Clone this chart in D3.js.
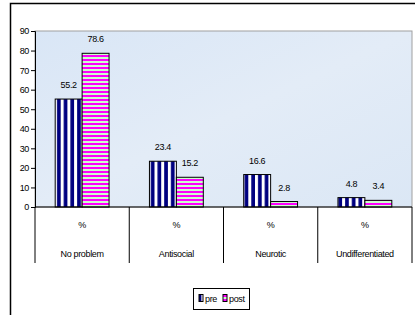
<!DOCTYPE html>
<html>
<head>
<meta charset="utf-8">
<script src="https://cdn.jsdelivr.net/npm/d3@7"></script>
<style>
  body { margin: 0; background: #fff; }
  text { font-family: "Liberation Sans Narrow", "Liberation Sans", Arial, sans-serif; fill: #000; letter-spacing: -0.35px; }
</style>
</head>
<body>
<div id="chart"></div>
<script>
var categories = ["No problem", "Antisocial", "Neurotic", "Undifferentiated"];
var unitLabel = "%";
var seriesNames = ["pre", "post"];
var preValues = [55.2, 23.4, 16.6, 4.8];
var postValues = [78.6, 15.2, 2.8, 3.4];
var yTicks = [0, 10, 20, 30, 40, 50, 60, 70, 80, 90];

var width = 415, height = 315;
var mLeft = 35, mRight = 412, mTop = 31, mBottom = 207;

var svg = d3.select("#chart").append("svg")
  .attr("width", width).attr("height", height);

var defs = svg.append("defs");
// vertical navy stripes for "pre"
var p1 = defs.append("pattern").attr("id", "preFill")
  .attr("patternUnits", "userSpaceOnUse").attr("width", 6.7).attr("height", 10)
  .attr("x", 54);
p1.append("rect").attr("width", 6.7).attr("height", 10).attr("fill", "#fff");
p1.append("rect").attr("x", 3).attr("width", 3.7).attr("height", 10).attr("fill", "#000080");
// horizontal magenta / light green stripes for "post"
var p2 = defs.append("pattern").attr("id", "postFill")
  .attr("patternUnits", "userSpaceOnUse").attr("width", 10).attr("height", 4)
  .attr("y", mBottom);
p2.append("rect").attr("width", 10).attr("height", 4).attr("fill", "#ccffcc");
p2.append("rect").attr("width", 10).attr("height", 2).attr("fill", "#ff00ff");

// outer frame
svg.append("rect").attr("x", 10.5).attr("y", 3.5).attr("width", 420).attr("height", 320)
  .attr("fill", "none").attr("stroke", "#000").attr("stroke-width", 1.5);

// plot area
var bg = defs.append("linearGradient").attr("id", "plotBg")
  .attr("x1", 0).attr("y1", 0).attr("x2", 1).attr("y2", 1);
bg.append("stop").attr("offset", "0").attr("stop-color", "#d9e6f6");
bg.append("stop").attr("offset", "0.5").attr("stop-color", "#e3ecf7");
bg.append("stop").attr("offset", "1").attr("stop-color", "#dbe7f5");
svg.append("rect").attr("x", mLeft).attr("y", mTop)
  .attr("width", mRight - mLeft).attr("height", mBottom - mTop)
  .attr("fill", "url(#plotBg)").attr("stroke", "#a0a0a0").attr("stroke-width", 1);

var x = d3.scaleBand().domain(categories).range([mLeft, mRight]).padding(0);
var bw = x.bandwidth() / 3.5;
var y = d3.scaleLinear().domain([0, 90]).range([mBottom, mTop]);

// y axis
var yAxis = svg.append("g").attr("transform", "translate(" + mLeft + ",0)")
  .call(d3.axisLeft(y).tickValues(yTicks).tickSize(4).tickPadding(2));
yAxis.select(".domain").attr("stroke", "#000");
yAxis.selectAll("text").style("font-size", "9px")
  .style("font-family", "'Liberation Sans Narrow', 'Liberation Sans', Arial, sans-serif");

// bars
var groups = svg.selectAll("g.cat").data(categories).enter().append("g").attr("class", "cat");
var series = [preValues, postValues];
var fills = ["url(#preFill)", "url(#postFill)"];
series.forEach(function(vals, s) {
  groups.append("rect")
    .attr("x", function(d, i) { return x(d) + bw * 0.75 + s * bw; })
    .attr("y", function(d, i) { return y(vals[i]); })
    .attr("width", bw)
    .attr("height", function(d, i) { return mBottom - y(vals[i]); })
    .attr("fill", fills[s])
    .attr("stroke", "#000").attr("stroke-width", 1);
  groups.append("text")
    .attr("x", function(d, i) { return x(d) + bw * 1.25 + s * bw; })
    .attr("y", function(d, i) { return y(vals[i]) - 11; })
    .attr("text-anchor", "middle")
    .style("font-size", "9px")
    .text(function(d, i) { return vals[i].toFixed(1); });
});

// x axis line and category dividers
svg.append("line").attr("x1", mLeft).attr("x2", mRight).attr("y1", mBottom).attr("y2", mBottom)
  .attr("stroke", "#000");
var divs = categories.map(function(c) { return x(c); }).concat([mRight]);
svg.selectAll("line.div").data(divs).enter().append("line").attr("class", "div")
  .attr("x1", function(d) { return d; }).attr("x2", function(d) { return d; })
  .attr("y1", mBottom).attr("y2", 263).attr("stroke", "#000");

svg.selectAll("text.unit").data(categories).enter().append("text").attr("class", "unit")
  .attr("x", function(d) { return x(d) + x.bandwidth() / 2; }).attr("y", 228)
  .attr("text-anchor", "middle").style("font-size", "9px").text(unitLabel);
svg.selectAll("text.catlab").data(categories).enter().append("text").attr("class", "catlab")
  .attr("x", function(d) { return x(d) + x.bandwidth() / 2; }).attr("y", 257)
  .attr("text-anchor", "middle").style("font-size", "9px").text(function(d) { return d; });

// legend
var lg = svg.append("g");
lg.append("rect").attr("x", 193.5).attr("y", 288.5).attr("width", 56).attr("height", 21)
  .attr("fill", "#fff").attr("stroke", "#000");
var lx = [199, 223];
seriesNames.forEach(function(n, i) {
  lg.append("rect").attr("x", lx[i]).attr("y", 294.5).attr("width", 4).attr("height", 7)
    .attr("fill", fills[i]).attr("stroke", "#000").attr("stroke-width", 1);
  lg.append("text").attr("x", lx[i] + 6).attr("y", 302).style("font-size", "9px").text(n);
});
</script>
</body>
</html>
